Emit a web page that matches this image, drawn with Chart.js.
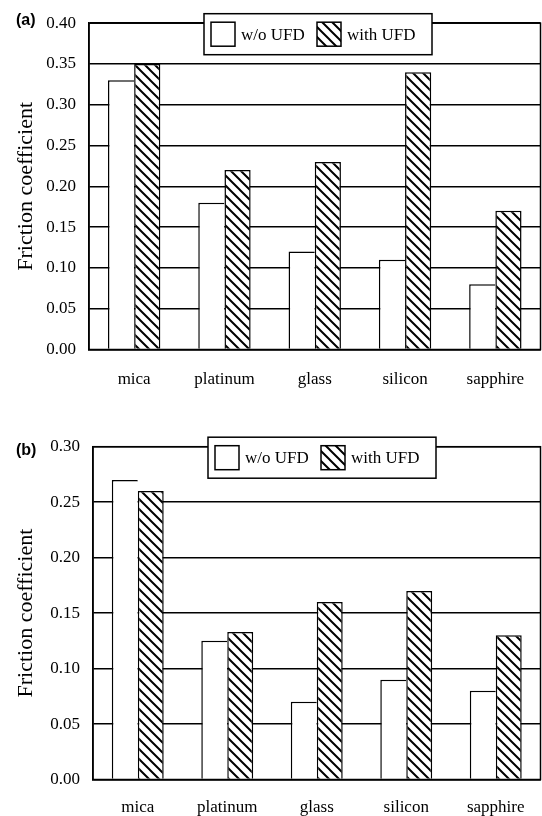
<!DOCTYPE html>
<html>
<head>
<meta charset="utf-8">
<script src="https://cdn.jsdelivr.net/npm/chart.js@4/dist/chart.umd.min.js"></script>
<style>
    body { margin: 0; background: #fff; width: 542px; height: 816px; position: relative; overflow: hidden; }
    .panel { position: absolute; left: 0; width: 542px; }
    .tag { position: absolute; left: 16px; font: bold 16px "Liberation Sans", Arial, sans-serif; line-height: 16px; color: #000; }
</style>
</head>
<body>
<div class="panel" style="top:0;height:395px"><canvas id="chartA"></canvas></div>
<div class="panel" style="top:400px;height:416px"><canvas id="chartB"></canvas></div>
<div class="tag" style="top:12px">(a)</div>
<div class="tag" style="top:442px">(b)</div>

<script>
// data
const materials = ["mica", "platinum", "glass", "silicon", "sapphire"];
const seriesNames = ["w/o UFD", "with UFD"];

const frictionA_without = [0.33, 0.18, 0.12, 0.11, 0.08];
const frictionA_with    = [0.35, 0.22, 0.23, 0.34, 0.17];

const frictionB_without = [0.27, 0.125, 0.07, 0.09, 0.08];
const frictionB_with    = [0.26, 0.133, 0.16, 0.17, 0.13];

const yMaxA = 0.40;
const yMaxB = 0.30;
const yStep = 0.05;

const SERIF = '"Liberation Serif", "Times New Roman", serif';

// diagonal hatch like the printed figure
function makeHatch(ctx) {
    const size = 10;
    const tile = document.createElement("canvas");
    tile.width = size; tile.height = size;
    const g = tile.getContext("2d");
    g.fillStyle = "#fff";
    g.fillRect(0, 0, size, size);
    g.strokeStyle = "#000";
    g.lineWidth = 2;
    g.beginPath();
    for (const k of [-size, 0, size]) {
        g.moveTo(k - 1, -1);
        g.lineTo(k + size + 1, size + 1);
    }
    g.stroke();
    return ctx.createPattern(tile, "repeat");
}

// box around the plot + legend sitting on the top edge
const frameAndLegend = {
    id: "frameAndLegend",
    afterDatasetsDraw(chart) {
        const { ctx, chartArea: a } = chart;
        ctx.save();
        ctx.strokeStyle = "#000";
        ctx.lineWidth = 1.5;
        ctx.strokeRect(a.left, a.top, a.right - a.left, a.bottom - a.top);

        const bx = a.left + 115, by = a.top - 9.5, bw = 228, bh = 41;
        ctx.fillStyle = "#fff";
        ctx.fillRect(bx, by, bw, bh);
        ctx.strokeRect(bx, by, bw, bh);

        ctx.font = "17px " + SERIF;
        ctx.textBaseline = "middle";
        ctx.textAlign = "left";
        const offsets = [7, 113];
        chart.data.datasets.forEach((ds, i) => {
            const sx = bx + offsets[i], sy = by + 8.5;
            ctx.fillStyle = ds.backgroundColor;
            ctx.fillRect(sx, sy, 24, 24);
            ctx.strokeRect(sx, sy, 24, 24);
            ctx.fillStyle = "#000";
            ctx.fillText(ds.label, sx + 30, sy + 13);
        });
        ctx.restore();
    }
};

function buildPanel(canvasId, withoutVals, withVals, yMax, box) {
    const canvas = document.getElementById(canvasId);
    const ctx = canvas.getContext("2d");
    const hatch = makeHatch(ctx);

    return new Chart(ctx, {
        type: "bar",
        data: {
            labels: materials,
            datasets: [
                {
                    label: seriesNames[0],
                    data: withoutVals,
                    backgroundColor: "#fff",
                    borderColor: "#000",
                    borderWidth: { top: 1.5, left: 1.5, right: 0, bottom: 0 },
                    categoryPercentage: 0.58,
                    barPercentage: 1.0
                },
                {
                    label: seriesNames[1],
                    data: withVals,
                    backgroundColor: hatch,
                    borderColor: "#000",
                    borderWidth: 1.5,
                    categoryPercentage: 0.58,
                    barPercentage: 1.0
                }
            ]
        },
        options: {
            responsive: true,
            maintainAspectRatio: false,
            animation: false,
            devicePixelRatio: 1,
            layout: { padding: { top: box.top, right: 1.5, left: 0, bottom: 0 } },
            plugins: { legend: { display: false }, tooltip: { enabled: false } },
            scales: {
                x: {
                    grid: { display: false },
                    border: { display: true, color: "#000", width: 1.5 },
                    ticks: { color: "#000", font: { family: SERIF, size: 17 }, padding: box.labelPad, maxRotation: 0 },
                    afterFit: (s) => { s.height = box.xH; }
                },
                y: {
                    min: 0,
                    max: yMax,
                    grid: { color: "#000", lineWidth: 1.5, drawTicks: false },
                    border: { display: true, color: "#000", width: 1.5 },
                    ticks: {
                        stepSize: yStep,
                        color: "#000",
                        font: { family: SERIF, size: 17 },
                        padding: 13,
                        callback: (v) => Number(v).toFixed(2)
                    },
                    title: {
                        display: true,
                        text: "Friction coefficient",
                        color: "#000",
                        font: { family: SERIF, size: 22, weight: "normal" },
                        padding: { top: 13, bottom: 0 }
                    },
                    afterFit: (s) => { s.width = box.left; }
                }
            }
        },
        plugins: [frameAndLegend]
    });
}

window.addEventListener("DOMContentLoaded", () => {
    buildPanel("chartA", frictionA_without, frictionA_with, yMaxA,
        { top: 16.7, left: 89, xH: 45.5, labelPad: 12 });
    buildPanel("chartB", frictionB_without, frictionB_with, yMaxB,
        { top: 46.7, left: 93, xH: 36.5, labelPad: 10 });
});
</script>
</body>
</html>
